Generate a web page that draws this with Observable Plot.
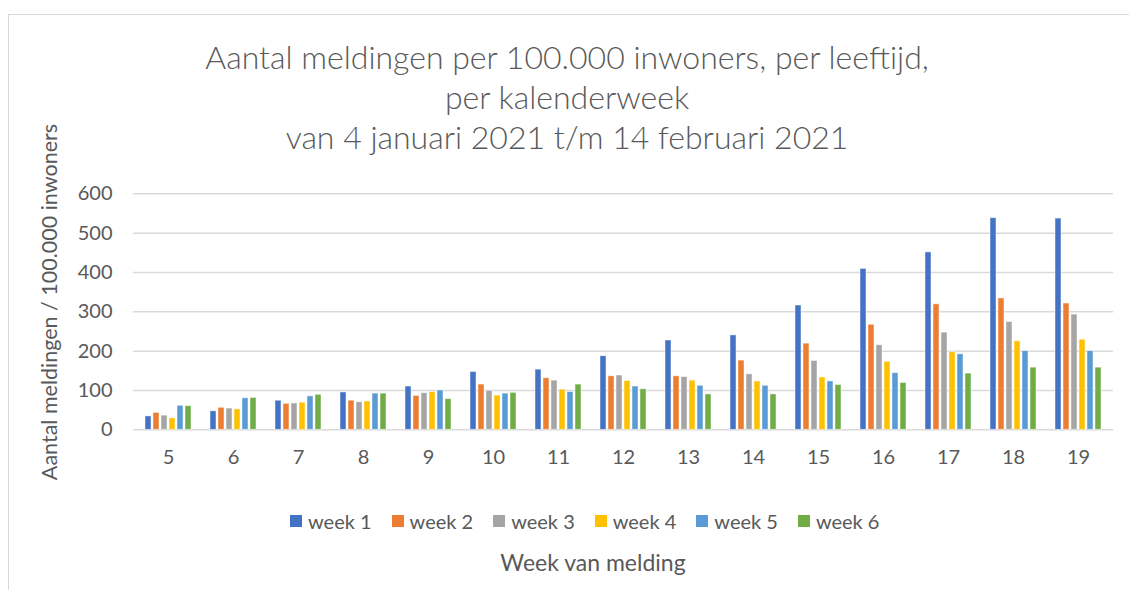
<!DOCTYPE html>
<html>
<head>
<meta charset="utf-8">
<script src="https://cdn.jsdelivr.net/npm/d3@7"></script>
<script src="https://cdn.jsdelivr.net/npm/@observablehq/plot@0.6"></script>
<style>
  html, body { margin: 0; padding: 0; background: #fff; }
  body { width: 1129px; height: 590px; overflow: hidden; font-family: Lato, "Open Sans", sans-serif; color: #595959; }
  #wrap { position: relative; width: 1129px; height: 590px; overflow: hidden; }
  #frame { position: absolute; left: 8px; top: 14px; width: 1300px; height: 700px; border-top: 1.5px solid #d9d9d9; border-left: 1.5px solid #d9d9d9; }
  .tline { position: absolute; left: 0; width: 1134px; text-align: center; font-size: 32px; line-height: 40px; font-weight: 300; white-space: nowrap; }
  #ytitle { position: absolute; left: 50px; top: 302px; transform: translate(-50%, -50%) rotate(-90deg); font-size: 21.5px; line-height: 1; white-space: nowrap; }
  .layer { position: absolute; left: 0; top: 170px; }
  #legend { position: absolute; left: 290px; top: 509px; display: flex; gap: 20px; font-size: 20px; line-height: 24px; }
  .item { display: flex; align-items: center; gap: 6px; }
  .sw { width: 12px; height: 12px; display: inline-block; }
  #xtitle { position: absolute; left: 0; width: 1186px; top: 549px; text-align: center; font-size: 23px; line-height: 26px; }
</style>
</head>
<body>
<div id="wrap">
  <div id="frame"></div>
  <div class="tline" style="top:37px">Aantal meldingen per 100.000 inwoners, per leeftijd,</div>
  <div class="tline" style="top:77px">per kalenderweek</div>
  <div class="tline" style="top:117px">van 4 januari 2021 t/m 14 februari 2021</div>
  <div id="ytitle">Aantal meldingen / 100.000 inwoners</div>
  <div class="layer" id="back"></div>
  <div class="layer" id="front"></div>
  <div id="legend"></div>
  <div id="xtitle">Week van melding</div>
</div>
<script>
// ---- data ----
const categories = ["5","6","7","8","9","10","11","12","13","14","15","16","17","18","19"];
const series = ["week 1","week 2","week 3","week 4","week 5","week 6"];
const week1 = [34, 47, 74, 95, 110, 147, 153, 187, 227, 240, 316, 409, 451, 538, 537];
const week2 = [43, 56, 66, 74, 86, 115, 131, 136, 136, 176, 219, 267, 319, 334, 321];
const week3 = [36, 54, 67, 70, 93, 99, 125, 138, 134, 141, 175, 215, 247, 274, 293];
const week4 = [29, 52, 69, 72, 96, 87, 102, 124, 125, 123, 133, 173, 197, 225, 229];
const week5 = [61, 80, 85, 92, 100, 92, 96, 110, 112, 112, 123, 144, 192, 200, 200];
const week6 = [60, 81, 89, 92, 78, 94, 115, 103, 90, 90, 114, 119, 143, 158, 158];
const yTicks = [0, 100, 200, 300, 400, 500, 600];
const colors = ["#4472C4","#ED7D31","#A5A5A5","#FFC000","#5B9BD5","#70AD47"];

const values = [week1, week2, week3, week4, week5, week6];
const data = categories.flatMap((c, i) => series.map((s, j) => ({cat: c, series: s, value: values[j][i]})));

const common = {
  width: 1129, height: 300,
  marginTop: 23.3, marginBottom: 40.7, marginLeft: 133, marginRight: 16
};

// background: grid + y axis (no faceting so gridlines are continuous)
const back = Plot.plot({
  ...common,
  style: {background: "transparent", fontFamily: "Lato, 'Open Sans', sans-serif", fontSize: "20px", color: "#595959", overflow: "visible"},
  y: {domain: [0, 600], ticks: yTicks, tickSize: 0, tickPadding: 21, label: null},
  marks: [
    Plot.ruleY(yTicks, {stroke: "#d9d9d9", strokeWidth: 1.5})
  ]
});
document.getElementById("back").appendChild(back);

// foreground: grouped bars
const front = Plot.plot({
  ...common,
  style: {background: "transparent", fontFamily: "Lato, 'Open Sans', sans-serif", fontSize: "20px", color: "#595959", overflow: "visible"},
  fx: {domain: categories, paddingInner: 0.2, paddingOuter: 0.1, label: null, axis: "bottom", tickSize: 0, tickPadding: 20},
  x: {domain: series, paddingInner: 0.23, paddingOuter: 0.1, axis: null},
  y: {domain: [0, 600], axis: null},
  color: {domain: series, range: colors},
  marks: [
    Plot.barY(data, {fx: "cat", x: "series", y: "value", fill: "series", stroke: "white", strokeOpacity: 0.6, strokeWidth: 0.8})
  ]
});
document.getElementById("front").appendChild(front);

// legend
const legend = document.getElementById("legend");
series.forEach((s, i) => {
  const it = document.createElement("div");
  it.className = "item";
  const sw = document.createElement("span");
  sw.className = "sw";
  sw.style.background = colors[i];
  const t = document.createElement("span");
  t.textContent = s;
  it.appendChild(sw); it.appendChild(t);
  legend.appendChild(it);
});
</script>
</body>
</html>
